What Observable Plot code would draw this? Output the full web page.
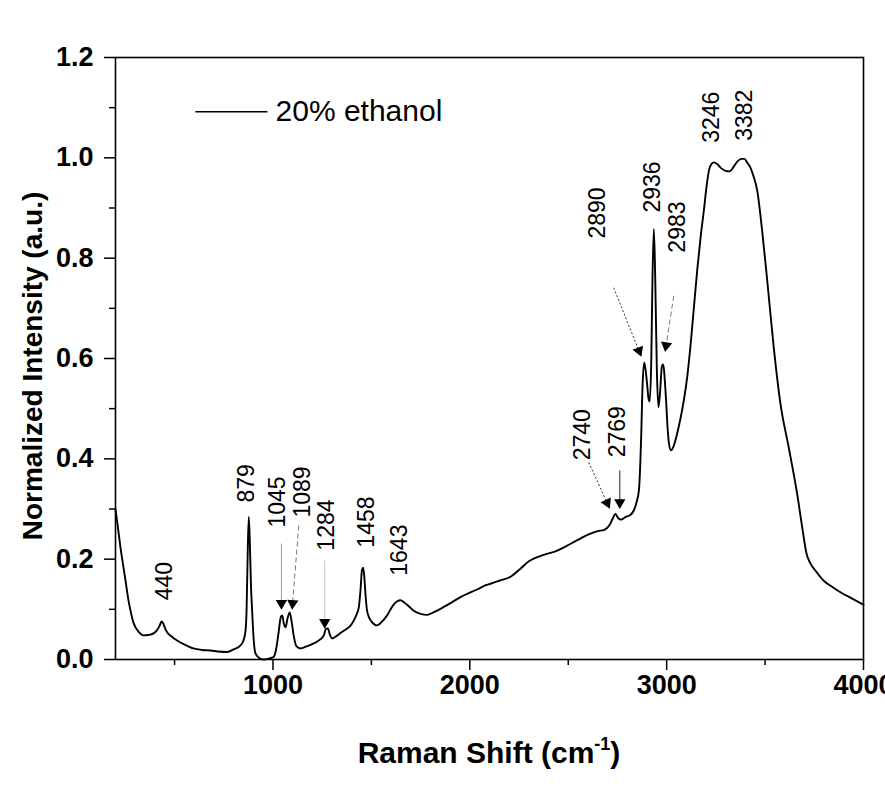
<!DOCTYPE html>
<html><head><meta charset="utf-8">
<script src="https://cdn.jsdelivr.net/npm/d3@7"></script>
<script src="https://cdn.jsdelivr.net/npm/@observablehq/plot@0.6"></script>
<style>body{margin:0;background:#fff} #chart{width:885px;height:796px}</style>
</head><body><div id="chart"></div>
<script>
// ---- data ----
const shift = [200,215,225,240,251,265,276,290,302,320,342,370,393,410,425,434,442,452,463,485,513,550,596,640,683,720,767,800,835,850,860,866,871,877,882,888,894,902,911,930,952,980,1003,1018,1028,1040,1047,1055,1064,1073,1085,1095,1105,1120,1140,1170,1207,1240,1258,1268,1279,1290,1300,1320,1343,1370,1395,1411,1425,1436,1445,1452,1458,1464,1470,1477,1487,1500,1515,1529,1550,1580,1610,1631,1648,1665,1690,1715,1750,1783,1815,1851,1900,1950,1987,2040,2080,2105,2150,2207,2260,2300,2325,2380,2444,2490,2528,2570,2613,2650,2681,2710,2725,2740,2755,2768,2790,2815,2833,2848,2859,2866,2871,2877,2886,2898,2908,2914,2922,2928,2935,2942,2950,2958,2966,2976,2983,2990,2998,3005,3012,3022,3035,3053,3070,3087,3105,3121,3138,3155,3172,3189,3205,3215,3228,3240,3255,3275,3300,3321,3340,3360,3380,3395,3410,3425,3440,3460,3485,3511,3544,3578,3620,3663,3690,3710,3731,3760,3798,3840,3883,3940,4000];
const intensity = [0.300,0.255,0.224,0.185,0.157,0.120,0.098,0.075,0.064,0.054,0.048,0.049,0.052,0.058,0.068,0.076,0.072,0.062,0.054,0.046,0.038,0.030,0.022,0.019,0.018,0.016,0.015,0.020,0.028,0.038,0.055,0.100,0.200,0.284,0.240,0.150,0.098,0.040,0.012,0.003,0.000,0.002,0.005,0.025,0.052,0.085,0.088,0.072,0.064,0.080,0.094,0.075,0.048,0.026,0.022,0.026,0.032,0.040,0.048,0.060,0.062,0.048,0.042,0.046,0.053,0.060,0.068,0.078,0.090,0.104,0.140,0.178,0.183,0.165,0.130,0.100,0.085,0.076,0.070,0.068,0.074,0.088,0.108,0.116,0.118,0.114,0.106,0.097,0.091,0.089,0.094,0.101,0.112,0.124,0.131,0.140,0.148,0.151,0.157,0.165,0.182,0.196,0.201,0.209,0.217,0.226,0.234,0.243,0.251,0.256,0.258,0.268,0.280,0.290,0.281,0.279,0.284,0.288,0.297,0.315,0.337,0.390,0.450,0.540,0.592,0.560,0.520,0.514,0.600,0.760,0.858,0.760,0.580,0.503,0.530,0.585,0.588,0.560,0.510,0.460,0.430,0.417,0.425,0.450,0.480,0.516,0.565,0.625,0.700,0.775,0.840,0.895,0.950,0.975,0.988,0.991,0.988,0.980,0.974,0.973,0.982,0.993,0.998,0.998,0.990,0.981,0.965,0.935,0.855,0.755,0.622,0.510,0.423,0.330,0.260,0.212,0.191,0.175,0.157,0.145,0.134,0.122,0.109];

const xMajorTicks = [1000,2000,3000,4000];
const xMinorTicks = [500,1500,2500,3500];
const yMajorTicks = [0,0.2,0.4,0.6,0.8,1.0,1.2];
const yMinorTicks = [0.1,0.3,0.5,0.7,0.9,1.1];

const peakNames = ["440","879","1045","1089","1284","1458","1643","2740","2769","2890","2936","2983","3246","3382"];
const peakLabelX = [449,865,1023,1150,1272,1475,1643,2572,2753,2649,2928,3055,3228,3395];
const peakLabelY = [0.118,0.313,0.263,0.283,0.217,0.223,0.167,0.397,0.403,0.839,0.891,0.811,1.030,1.034];

const arrowFromX = [1043,1131,1263,2604,2762,2731,3036];
const arrowFromY = [0.231,0.267,0.197,0.393,0.377,0.741,0.725];
const arrowToX   = [1043,1098,1263,2706,2762,2867,2994];
const arrowToY   = [0.104,0.104,0.066,0.305,0.305,0.608,0.618];
const arrowStyle = ["solid-gray","dash-gray","solid-light","dot-dark","solid-dark","dot-dark","dash-gray"];

const seriesName = "20% ethanol";

// ---- layout ----
const W = 885, H = 796, mL = 115, mR = 22, mT = 57, mB = 137;
const xDom = [200, 4000], yDom = [0, 1.2];
const kx = (W - mL - mR) / (xDom[1] - xDom[0]);
const ky = (H - mT - mB) / (yDom[1] - yDom[0]);

const curve = shift.map((x, i) => ({x, y: intensity[i]}));
const peaks = peakNames.map((name, i) => ({name, x: peakLabelX[i], y: peakLabelY[i]}));
const arrows = arrowFromX.map((x1, i) => {
  const x2 = arrowToX[i], y1 = arrowFromY[i], y2 = arrowToY[i];
  const dxp = (x2 - x1) * kx, dyp = -(y2 - y1) * ky;
  const len = Math.hypot(dxp, dyp);
  const ux = dxp / len, uy = dyp / len;
  const back = 4;
  return {
    x1, y1, x2, y2, style: arrowStyle[i],
    hx: x2 - ux * back / kx, hy: y2 + uy * back / ky,
    ex: x2 - ux * 6 / kx, ey: y2 + uy * 6 / ky,
    angle: Math.atan2(ux, -uy) * 180 / Math.PI
  };
});
const legend = [{x1: 606, x2: 972, y: 1.092, tx: 1013, label: seriesName}];

const font = "'Liberation Sans', Arial, Helvetica, sans-serif";
const linkStyle = (style, opts) => Plot.link(arrows.filter(a => a.style === style), {x1: "x1", y1: "y1", x2: "ex", y2: "ey", strokeWidth: 1, ...opts});

const plot = Plot.plot({
  width: W, height: H,
  marginLeft: mL, marginRight: mR, marginTop: mT, marginBottom: mB,
  style: {fontFamily: font, color: "black", background: "white", overflow: "visible"},
  x: {domain: xDom},
  y: {domain: yDom},
  marks: [
    Plot.axisX(xMajorTicks, {tickSize: 11, tickPadding: 4, fontSize: 27, fontWeight: "bold", strokeWidth: 1.5, tickFormat: d3.format("d"), label: null}),
    Plot.axisX(xMinorTicks, {tickSize: 6, tickFormat: () => "", strokeWidth: 1.5, label: null}),
    Plot.axisY(yMajorTicks, {tickSize: 11, tickPadding: 11, fontSize: 27, fontWeight: "bold", strokeWidth: 1.5, tickFormat: d3.format(".1f"), label: null}),
    Plot.axisY(yMinorTicks, {tickSize: 6, tickFormat: () => "", strokeWidth: 1.5, label: null}),
    Plot.frame({stroke: "black", strokeWidth: 1.6}),
    linkStyle("solid-gray", {stroke: "#9a9a9a"}),
    linkStyle("solid-light", {stroke: "#c4c4c4"}),
    linkStyle("dash-gray", {stroke: "#777", strokeDasharray: "5,3"}),
    linkStyle("dot-dark", {stroke: "#333", strokeDasharray: "2,2"}),
    linkStyle("solid-dark", {stroke: "#222"}),
    Plot.dot(arrows, {x: "hx", y: "hy", symbol: "triangle", r: 4.2, fill: "black", stroke: null, rotate: "angle"}),
    Plot.line(curve, {x: "x", y: "y", stroke: "black", strokeWidth: 1.9, curve: "monotone-x"}),
    Plot.text(peaks, {x: "x", y: "y", text: "name", rotate: -90, textAnchor: "start", fontSize: 23, fill: "black"}),
    Plot.link(legend, {x1: "x1", x2: "x2", y1: "y", y2: "y", stroke: "black", strokeWidth: 1.5}),
    Plot.text(legend, {x: "tx", y: "y", text: "label", textAnchor: "start", fontSize: 30, fill: "black"})
  ]
});

const svg = d3.select(plot);
const xt = svg.append("text")
  .attr("x", (mL + W - mR) / 2).attr("y", 763)
  .attr("text-anchor", "middle")
  .attr("font-family", font).attr("font-size", 30).attr("font-weight", "bold").attr("fill", "black");
xt.append("tspan").text("Raman Shift (cm");
xt.append("tspan").attr("font-size", 18).attr("dy", -13).text("-1");
xt.append("tspan").attr("dy", 13).text(")");

svg.append("text")
  .attr("transform", `translate(42,${(mT + H - mB) / 2 + 8}) rotate(-90)`)
  .attr("text-anchor", "middle")
  .attr("font-family", font).attr("font-size", 28).attr("font-weight", "bold").attr("fill", "black")
  .text("Normalized Intensity (a.u.)");

document.getElementById("chart").appendChild(plot);
</script>
</body></html>
